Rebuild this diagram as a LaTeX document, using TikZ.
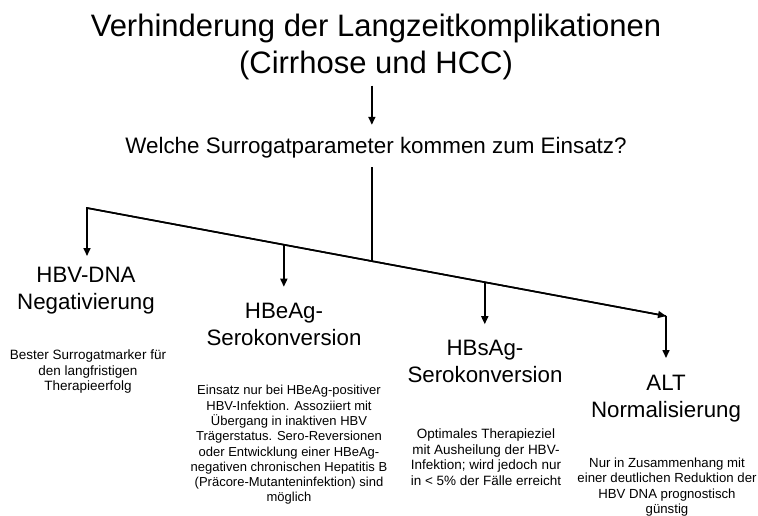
\documentclass[tikz,border=0pt]{standalone}
\usepackage{fontspec}
\setmainfont{Liberation Sans}
\usetikzlibrary{arrows.meta,calc}

\begin{document}
\begin{tikzpicture}[x=1pt,y=-1pt,line width=1.6pt,
  pfeil/.style={-{Triangle[length=8pt,width=7pt]}},
  titel/.style={align=center,inner sep=0pt,font=\fontsize{31}{37}\selectfont},
  kopf/.style={align=center,inner sep=0pt,font=\fontsize{22.3}{27}\selectfont},
  notiz/.style={align=center,inner sep=0pt,font=\fontsize{13.5}{15.5}\selectfont}]
\useasboundingbox (0,0) rectangle (758,516);
\node[titel] (titel) at (376,47) {Verhinderung der Langzeitkomplikationen\\(Cirrhose und HCC)};
\node[inner sep=0pt,font=\fontsize{22.4}{26}\selectfont] (frage) at (376,148) {Welche Surrogatparameter kommen zum Einsatz?};
% Verteiler
\coordinate (lo) at (87,208); \coordinate (ro) at (666,316);
\coordinate (b0) at ($(lo)!0.492!(ro)$);
\coordinate (b2) at ($(lo)!0.340!(ro)$);
\coordinate (b3) at ($(lo)!0.687!(ro)$);
\draw[pfeil] ($(titel.south -| b0)+(0,5)$) -- ($(frage.north -| b0)+(0,-12)$);
\draw ($(frage.south -| b0)+(0,8)$) -- (b0);
\draw[pfeil] (ro) -- (lo) -- ++(0,48);
\draw[pfeil] (lo) -- (ro);
\draw[pfeil] (b2) -- ++(0,42);
\draw[pfeil] (b3) -- ++(0,42);
\draw[pfeil] (ro) -- ++(0,42);
% Surrogatparameter
\node[kopf] (dna) at (86,291) {HBV-DNA\\Negativierung};
\node[kopf] (hbeag) at (284,324) {HBeAg-\\Serokonversion};
\node[kopf] (hbsag) at (485,361) {HBsAg-\\Serokonversion};
\node[kopf] (alt) at (666,399) {ALT\\Normalisierung};
\node[notiz] (dnatext) at (88,372) {Bester Surrogatmarker für\\den langfristigen\\Therapieerfolg};
\node[notiz,font=\fontsize{13}{15.3}\selectfont] (hbeagtext) at (289,445) {Einsatz nur bei HBeAg-positiver\\HBV-Infektion. Assoziiert mit\\Übergang in inaktiven HBV\\Trägerstatus. Sero-Reversionen\\oder Entwicklung einer HBeAg-\\negativen chronischen Hepatitis B\\(Präcore-Mutanteninfektion) sind\\möglich};
\node[notiz] (hbsagtext) at (486,457) {Optimales Therapieziel\\mit Ausheilung der HBV-\\Infektion; wird jedoch nur\\in < 5\% der Fälle erreicht};
\node[notiz,font=\fontsize{13.2}{15.5}\selectfont] (alttext) at (667,487) {Nur in Zusammenhang mit\\einer deutlichen Reduktion der\\HBV DNA prognostisch\\günstig};
\end{tikzpicture}
\end{document}
